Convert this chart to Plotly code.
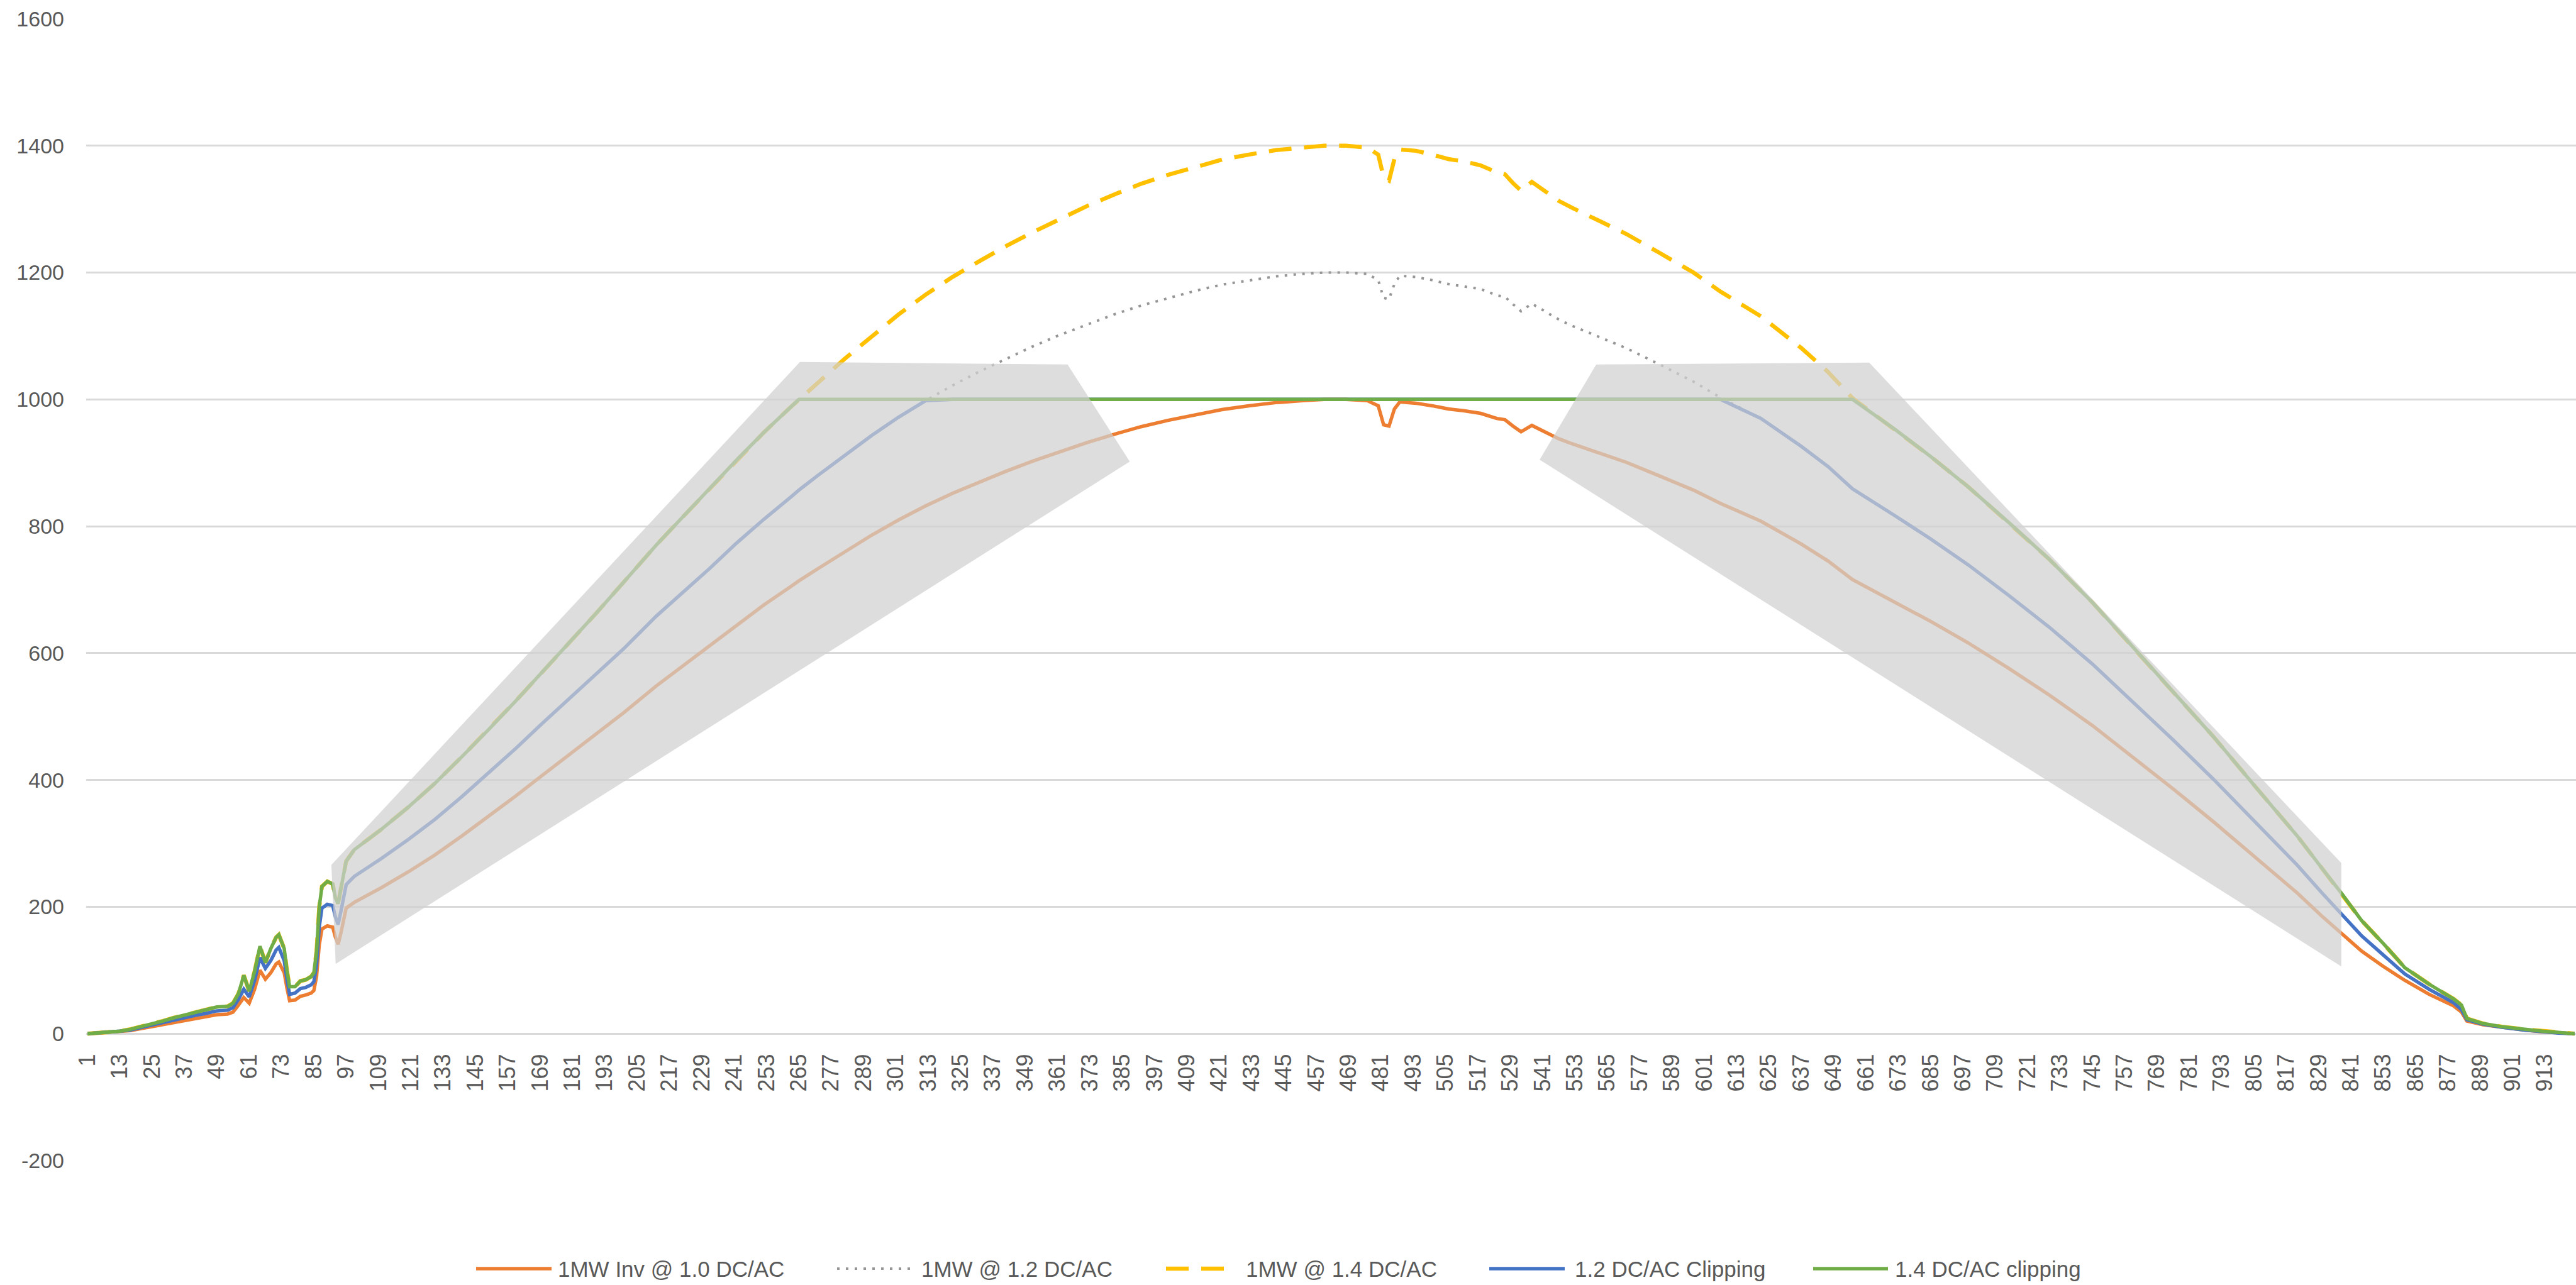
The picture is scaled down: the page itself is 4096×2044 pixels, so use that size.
import plotly.graph_objects as go

# ---------------------------------------------------------------------------
# Inverter output over the day (kW) for one 1 MW inverter at different
# DC/AC loading ratios, sampled by interval number.
# ---------------------------------------------------------------------------
INTERVAL = [
    1, 5, 9, 13, 17, 21, 25, 29, 33, 37,
    41, 45, 49, 53, 55, 57, 59, 61, 63, 65,
    67, 69, 71, 72, 74, 75, 76, 78, 80, 82,
    84, 85, 86, 87, 88, 90, 92, 93, 94, 95,
    97, 100, 110, 120, 130, 140, 150, 160, 170, 180,
    190, 200, 212, 222, 232, 242, 252, 262, 265, 272,
    282, 292, 302, 312, 322, 332, 342, 352, 362, 372,
    382, 392, 402, 412, 422, 432, 442, 452, 460, 468,
    476, 480, 482, 484, 486, 488, 494, 500, 506, 512,
    518, 524, 527, 530, 533, 537, 542, 547, 552, 560,
    572, 584, 597, 607, 622, 637, 647, 656, 672, 685,
    699, 714, 729, 745, 760, 775, 790, 805, 821, 830,
    837, 845, 853, 861, 870, 879, 882, 884, 890, 897,
    905, 912, 918, 924,
]

INV_1MW_DCAC_10 = [
    0, 1, 2, 3, 5, 8, 11, 14, 18, 21,
    24, 27, 30, 31, 34, 45, 57, 48, 70, 100,
    86, 96, 110, 113, 96, 72, 52, 53, 59, 61,
    64, 68, 90, 140, 165, 170, 168, 152, 141, 158,
    198, 207, 230, 255, 282, 312, 343, 375, 408, 441,
    474, 506, 548, 580, 612, 645, 676, 705, 714, 733,
    760, 786, 810, 832, 852, 870, 887, 903, 918, 932,
    945, 957, 967, 976, 984, 990, 995, 998, 1000, 1000,
    998, 990, 960, 958, 985, 996, 994, 990, 985, 982,
    978, 970, 968, 958, 949, 959, 948, 938, 930, 918,
    901, 880, 857, 836, 808, 772, 745, 716, 680, 650,
    616, 576, 534, 486, 436, 386, 334, 280, 222, 186,
    160, 130, 106, 84, 62, 44, 34, 20, 14, 10,
    6, 3, 1, 0,
]

INV_1MW_DCAC_12 = [
    0, 1, 2, 4, 6, 10, 13, 17, 22, 25,
    29, 32, 36, 37, 41, 54, 70, 58, 84, 120,
    103, 115, 132, 136, 115, 86, 62, 64, 71, 73,
    77, 82, 108, 168, 198, 204, 202, 184, 172, 192,
    235, 248, 276, 306, 338, 374, 412, 450, 490, 529,
    569, 607, 658, 696, 734, 774, 811, 846, 857, 880,
    912, 943, 972, 998, 1022, 1044, 1064, 1084, 1102, 1118,
    1134, 1148, 1160, 1171, 1181, 1188, 1194, 1198, 1200, 1200,
    1198, 1188, 1160, 1158, 1182, 1195, 1193, 1188, 1182, 1178,
    1174, 1164, 1162, 1150, 1139, 1151, 1138, 1126, 1116, 1102,
    1081, 1056, 1028, 1003, 970, 926, 894, 859, 816, 780,
    739, 691, 641, 583, 523, 463, 401, 336, 266, 223,
    190, 154, 124, 94, 70, 49, 38, 22, 15, 10,
    6, 3, 1, 0,
]

INV_1MW_DCAC_14 = [
    0, 1, 3, 4, 7, 11, 15, 20, 25, 29,
    34, 38, 42, 43, 48, 63, 92, 67, 98, 138,
    112, 134, 152, 156, 134, 100, 74, 74, 83, 85,
    90, 96, 130, 200, 232, 240, 236, 214, 205, 228,
    272, 290, 322, 357, 395, 437, 480, 525, 571, 617,
    664, 712, 770, 815, 860, 905, 948, 988, 1000, 1026,
    1064, 1100, 1134, 1165, 1193, 1218, 1242, 1264, 1285, 1305,
    1323, 1340, 1354, 1366, 1378, 1386, 1393, 1397, 1400, 1400,
    1397, 1386, 1350, 1345, 1379, 1394, 1392, 1386, 1379, 1375,
    1369, 1358, 1355, 1341, 1329, 1343, 1327, 1313, 1302, 1285,
    1261, 1232, 1200, 1170, 1131, 1081, 1043, 1002, 952, 910,
    862, 806, 748, 680, 610, 540, 468, 392, 312, 262,
    224, 178, 142, 104, 78, 55, 45, 24, 16, 11,
    7, 4, 2, 0,
]

CLIPPED_DCAC_12 = [
    0, 1, 2, 4, 6, 10, 13, 17, 22, 25,
    29, 32, 36, 37, 41, 54, 70, 58, 84, 120,
    103, 115, 132, 136, 115, 86, 62, 64, 71, 73,
    77, 82, 108, 168, 198, 204, 202, 184, 172, 192,
    235, 248, 276, 306, 338, 374, 412, 450, 490, 529,
    569, 607, 658, 696, 734, 774, 811, 846, 857, 880,
    912, 943, 972, 998, 1000, 1000, 1000, 1000, 1000, 1000,
    1000, 1000, 1000, 1000, 1000, 1000, 1000, 1000, 1000, 1000,
    1000, 1000, 1000, 1000, 1000, 1000, 1000, 1000, 1000, 1000,
    1000, 1000, 1000, 1000, 1000, 1000, 1000, 1000, 1000, 1000,
    1000, 1000, 1000, 1000, 970, 926, 894, 859, 816, 780,
    739, 691, 641, 583, 523, 463, 401, 336, 266, 223,
    190, 154, 124, 94, 70, 49, 38, 22, 15, 10,
    6, 3, 1, 0,
]

CLIPPED_DCAC_14 = [
    0, 1, 3, 4, 7, 11, 15, 20, 25, 29,
    34, 38, 42, 43, 48, 63, 92, 67, 98, 138,
    112, 134, 152, 156, 134, 100, 74, 74, 83, 85,
    90, 96, 130, 200, 232, 240, 236, 214, 205, 228,
    272, 290, 322, 357, 395, 437, 480, 525, 571, 617,
    664, 712, 770, 815, 860, 905, 948, 988, 1000, 1000,
    1000, 1000, 1000, 1000, 1000, 1000, 1000, 1000, 1000, 1000,
    1000, 1000, 1000, 1000, 1000, 1000, 1000, 1000, 1000, 1000,
    1000, 1000, 1000, 1000, 1000, 1000, 1000, 1000, 1000, 1000,
    1000, 1000, 1000, 1000, 1000, 1000, 1000, 1000, 1000, 1000,
    1000, 1000, 1000, 1000, 1000, 1000, 1000, 1000, 952, 910,
    862, 806, 748, 680, 610, 540, 468, 392, 312, 262,
    224, 178, 142, 104, 78, 55, 45, 24, 16, 11,
    7, 4, 2, 0,
]

SERIES_NAMES = [
    "1MW Inv @ 1.0 DC/AC",
    "1MW @ 1.2 DC/AC",
    "1MW @ 1.4 DC/AC",
    "1.2 DC/AC Clipping",
    "1.4 DC/AC clipping",
]

# Clipping regions highlighted on the chart (interval, kW)
RAMP_UP_ZONE = [(91.5, 266), (265.4, 1059), (364.7, 1055), (387.8, 902), (93.1, 110)]
RAMP_DOWN_ZONE = [(539.9, 905), (560.9, 1055), (662.2, 1058), (837.4, 269), (837.4, 106)]

CATEGORY_TICKS = list(range(1, 925, 12))
Y_TICKS = [-200, 0, 200, 400, 600, 800, 1000, 1200, 1400, 1600]
Y_TICK_TEXT = ["-200", "0", "200", "400", "600", "800", "1000", "1200", "1400", "1600"]

for s in (INV_1MW_DCAC_10, INV_1MW_DCAC_12, INV_1MW_DCAC_14, CLIPPED_DCAC_12, CLIPPED_DCAC_14):
    assert len(s) == len(INTERVAL)

# ---------------------------------------------------------------------------
W, H = 4096, 2044
ML, MR, MT, MB = 137, 0, 30, 198
PW, PH = W - ML - MR, H - MT - MB

TEXT = "#595959"
GRID = "#d9d9d9"
FONT = "Liberation Sans, Arial, sans-serif"

styles = [
    dict(color="#ED7D31", width=5.5, dash="solid"),
    dict(color="#969696", width=4, dash="4px,10px"),
    dict(color="#FFC000", width=6.5, dash="36px,20px"),
    dict(color="#4472C4", width=5.5, dash="solid"),
    dict(color="#70AD47", width=5.5, dash="solid"),
]
values = [INV_1MW_DCAC_10, INV_1MW_DCAC_12, INV_1MW_DCAC_14, CLIPPED_DCAC_12, CLIPPED_DCAC_14]

fig = go.Figure()
for name, vals, st in zip(SERIES_NAMES, values, styles):
    fig.add_trace(go.Scatter(
        x=INTERVAL, y=vals, mode="lines", name=name,
        line=dict(color=st["color"], width=st["width"], dash=st["dash"]),
        showlegend=False,
    ))


def zone_path(pts):
    return "M " + " L ".join(f"{x},{y}" for x, y in pts) + " Z"


shapes = []
for zone in (RAMP_UP_ZONE, RAMP_DOWN_ZONE):
    shapes.append(dict(
        type="path", xref="x", yref="y", path=zone_path(zone),
        fillcolor="rgba(208,208,208,0.72)", line=dict(width=0), layer="above",
    ))

# Legend row beneath the plot, drawn in paper units
def px_x(px):
    return (px - ML) / PW


def px_y(py):
    return (H - MB - py) / PH


legend_y = px_y(2018)
legend_items = [
    (757, 877, 885),
    (1331, 1452, 1463),
    (1854, 1949, 1979),
    (2368, 2488, 2502),
    (2883, 3002, 3011),
]
annotations = []
for (x0, x1, tx), name, st in zip(legend_items, SERIES_NAMES, styles):
    shapes.append(dict(
        type="line", xref="paper", yref="paper",
        x0=px_x(x0), x1=px_x(x1), y0=legend_y, y1=legend_y,
        line=dict(color=st["color"], width=st["width"], dash=st["dash"]),
    ))
    annotations.append(dict(
        xref="paper", yref="paper", x=px_x(tx), y=legend_y,
        xanchor="left", yanchor="middle", showarrow=False,
        text=name, font=dict(family=FONT, size=35, color=TEXT),
    ))

fig.update_layout(
    width=W, height=H,
    margin=dict(l=ML, r=MR, t=MT, b=MB, pad=0),
    paper_bgcolor="white", plot_bgcolor="white",
    showlegend=False,
    shapes=shapes, annotations=annotations,
    font=dict(family=FONT, color=TEXT),
    xaxis=dict(
        range=[0.5, 924.5], anchor="free", position=200 / 1800,
        tickmode="array", tickvals=CATEGORY_TICKS,
        ticktext=[str(t) for t in CATEGORY_TICKS],
        tickangle=-90, tickfont=dict(family=FONT, size=36, color=TEXT),
        showgrid=False, zeroline=False, showline=False, ticks="",
        ticklabelstandoff=24,
    ),
    yaxis=dict(
        range=[-200, 1600], tickmode="array", tickvals=Y_TICKS, ticktext=Y_TICK_TEXT,
        tickfont=dict(family=FONT, size=34, color=TEXT),
        showgrid=True, gridcolor=GRID, gridwidth=2.5,
        zeroline=False, showline=False, ticks="",
        ticklabelstandoff=34,
    ),
)

fig.write_html("out.html")
